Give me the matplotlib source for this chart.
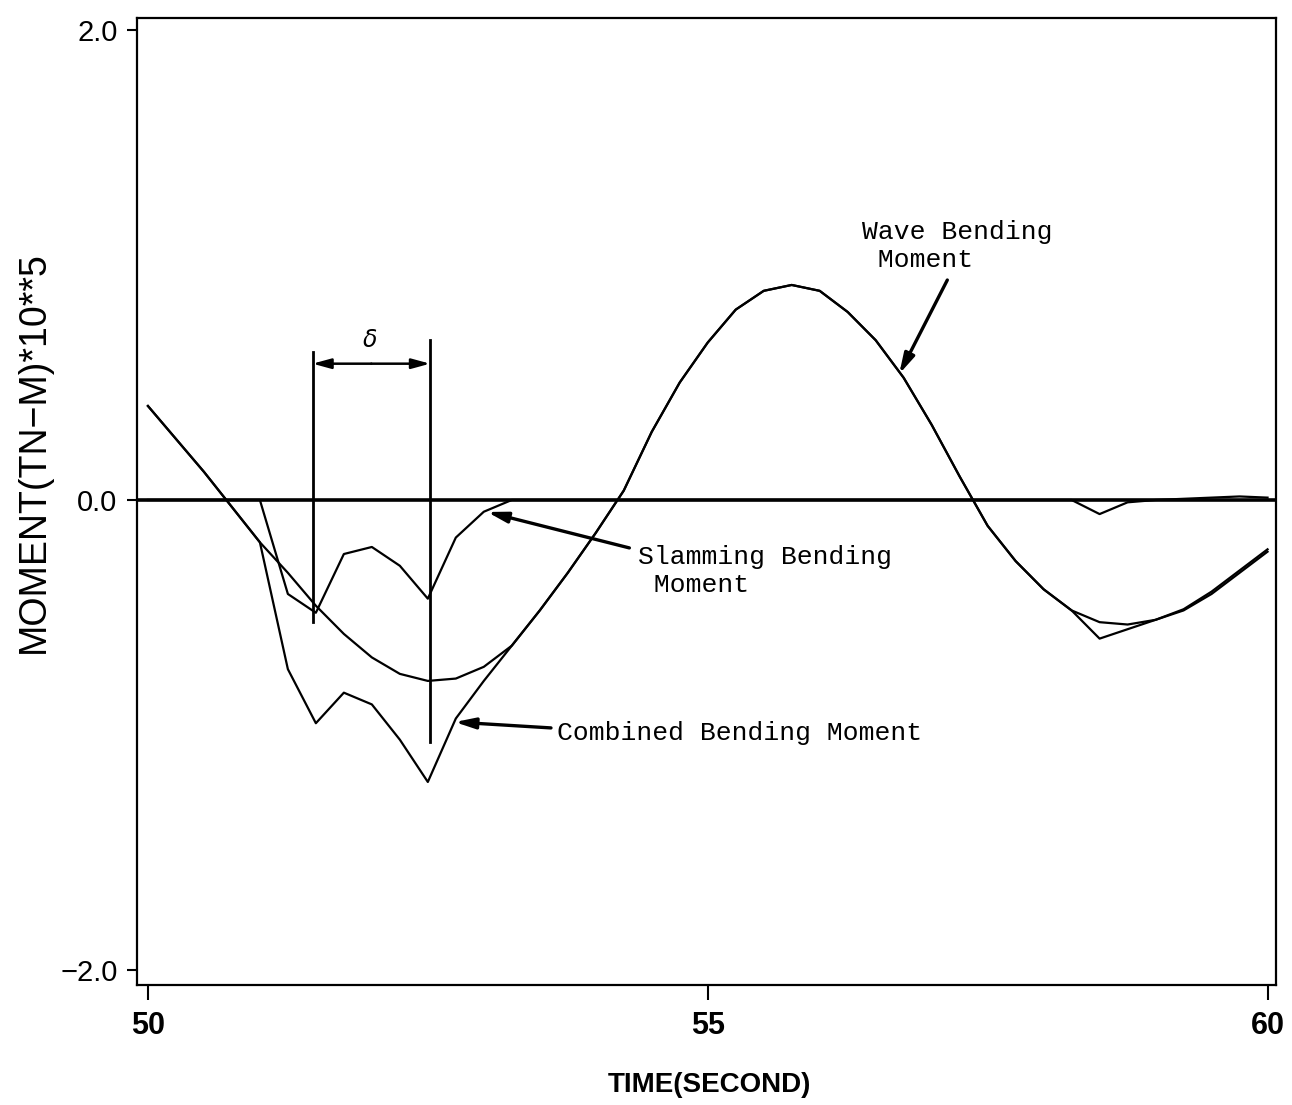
import numpy as np
import matplotlib.pyplot as plt

# --- Datos (paso 0.25 s) ---
time = [50.0, 50.25, 50.5, 50.75, 51.0, 51.25, 51.5, 51.75, 52.0, 52.25,
        52.5, 52.75, 53.0, 53.25, 53.5, 53.75, 54.0, 54.25, 54.5, 54.75,
        55.0, 55.25, 55.5, 55.75, 56.0, 56.25, 56.5, 56.75, 57.0, 57.25,
        57.5, 57.75, 58.0, 58.25, 58.5, 58.75, 59.0, 59.25, 59.5, 59.75, 60.0]

wave = [0.40, 0.26, 0.12, -0.03, -0.18, -0.31, -0.45, -0.57, -0.67, -0.74,
        -0.77, -0.76, -0.71, -0.62, -0.47, -0.31, -0.14, 0.04, 0.29, 0.50,
        0.67, 0.81, 0.89, 0.915, 0.89, 0.80, 0.68, 0.52, 0.32, 0.10,
        -0.11, -0.26, -0.38, -0.47, -0.52, -0.53, -0.51, -0.47, -0.40, -0.31, -0.22]

slamming = [0.0, 0.0, 0.0, 0.0, 0.0, -0.40, -0.48, -0.23, -0.20, -0.28,
            -0.42, -0.16, -0.05, 0.0, 0.0, 0.0, 0.0, 0.0, 0.0, 0.0,
            0.0, 0.0, 0.0, 0.0, 0.0, 0.0, 0.0, 0.0, 0.0, 0.0,
            0.0, 0.0, 0.0, 0.0, -0.06, -0.01, 0.0, 0.005, 0.01, 0.015, 0.01]

combined = [0.40, 0.26, 0.12, -0.03, -0.18, -0.72, -0.95, -0.82, -0.87, -1.02,
            -1.20, -0.93, -0.77, -0.62, -0.47, -0.31, -0.14, 0.04, 0.29, 0.50,
            0.67, 0.81, 0.89, 0.915, 0.89, 0.80, 0.68, 0.52, 0.32, 0.10,
            -0.11, -0.26, -0.38, -0.47, -0.59, -0.55, -0.51, -0.465, -0.39, -0.30, -0.21]

x_ticks = [50, 55, 60]
y_ticks = [-2.0, 0.0, 2.0]

# marcas del intervalo delta
delta_t0, delta_t1 = 51.47, 52.52

# --- Figura ---
fig = plt.figure(figsize=(12.92, 11.05), dpi=100)
ax = fig.add_axes([0.106, 0.1086, 0.882, 0.8751])

lw = 1.6
ax.axhline(0.0, color='black', linewidth=2.6)
ax.plot(time, wave, color='black', linewidth=lw)
ax.plot(time, slamming, color='black', linewidth=lw)
ax.plot(time, combined, color='black', linewidth=lw)

# lineas verticales y cota delta
ax.plot([delta_t0, delta_t0], [0.63, -0.52], color='black', linewidth=2.0)
ax.plot([delta_t1, delta_t1], [0.68, -1.03], color='black', linewidth=2.0)
mid = 0.5 * (delta_t0 + delta_t1)
for tip in (delta_t0, delta_t1):
    ax.annotate('', xy=(tip, 0.58), xytext=(mid, 0.58),
                arrowprops=dict(arrowstyle='-|>,head_length=1.1,head_width=0.3',
                                color='black', linewidth=1.8, shrinkA=0, shrinkB=0))
ax.text(51.98, 0.68, r'$\delta$', fontsize=17, ha='center', va='center')

# --- Anotaciones ---
mono = ['Liberation Mono', 'DejaVu Sans Mono']
arrow_kw = dict(arrowstyle='-|>,head_length=1.2,head_width=0.32',
                color='black', linewidth=2.4, shrinkA=0, shrinkB=0)
ax.annotate('', xy=(56.71, 0.536), xytext=(57.14, 0.936), arrowprops=arrow_kw)
ax.annotate('', xy=(53.03, -0.051), xytext=(54.30, -0.204), arrowprops=arrow_kw)
ax.annotate('', xy=(52.74, -0.945), xytext=(53.60, -0.97), arrowprops=arrow_kw)

ax.text(56.375, 1.081, 'Wave Bending\n Moment', family=mono, fontsize=19,
        ha='left', va='center', linespacing=1.2)
ax.text(54.375, -0.302, 'Slamming Bending\n Moment', family=mono, fontsize=19,
        ha='left', va='center', linespacing=1.2)
ax.text(53.65, -0.99, 'Combined Bending Moment', family=mono, fontsize=19,
        ha='left', va='center')

# --- Ejes ---
ax.set_xlim(49.902, 60.080)
ax.set_ylim(-2.064, 2.051)
ax.set_xticks(x_ticks)
ax.set_xticklabels([str(v) for v in x_ticks],
                   family=['Liberation Sans Narrow', 'Liberation Sans'],
                   fontweight='bold', fontsize=22)
ax.set_yticks(y_ticks)
ax.set_yticklabels(['\u22122.0', '0.0', '2.0'], family=['Liberation Sans'], fontsize=21)
ax.tick_params(axis='x', direction='out', length=10.5, width=1.5, pad=8)
ax.tick_params(axis='y', direction='out', length=7, width=1.5, pad=7)
for s in ax.spines.values():
    s.set_linewidth(1.6)

ax.set_xlabel('TIME(SECOND)', family=['Liberation Sans Narrow', 'Liberation Sans'],
              fontweight='bold', fontsize=20)
ax.xaxis.set_label_coords(0.5026, -0.09)
ax.set_ylabel('MOMENT(TN\u2212M)*10**5', family=['Liberation Sans'], fontsize=27)
ax.yaxis.set_label_coords(-0.075, 0.551)

fig.savefig('out.png', dpi=100)
